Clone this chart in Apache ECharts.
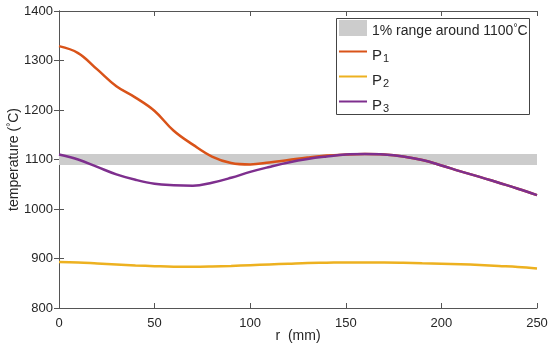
<!DOCTYPE html>
<html>
<head>
<meta charset="utf-8">
<script src="https://cdn.jsdelivr.net/npm/echarts@6/dist/echarts.min.js"></script>
<style>html,body{margin:0;padding:0;background:#fff}#c{width:550px;height:355px}</style>
</head>
<body>
<div id="c"></div>
<script>
var rValues = [0,10,20,30,40,50,60,70,80,90,100,110,120,130,140,150,160,170,180,190,200,210,220,230,240,250];
var p1 = [1329,1315,1282,1248,1225,1198,1158,1130,1106,1093,1090,1094,1099,1104,1108,1110,1111,1110,1106,1099,1088,1076,1065,1053,1041,1028];
var p2 = [893,892,890,888,886,884.5,883.5,883.5,884,885,886.5,888,889.5,891,891.5,892,892,892,891.5,890.5,889.5,888.5,887,885,883,880];
var p3 = [1110,1100,1085,1070,1059,1051,1048,1047,1053,1063,1075,1085,1094,1101,1106,1110,1111,1110,1106,1099,1088,1076,1065,1053,1041,1028];
var bandLow = 1089, bandHigh = 1111;
var seriesNames = ['1% range around 1100°C','P1','P2','P3'];
var colors = ['#cccccc','#D95319','#EDB120','#7E2F8E'];

function pairs(ys){ return rValues.map(function(r,i){ return [r, ys[i]]; }); }

var FONT = 'Liberation Sans';
var axisColor = '#555555';
var textColor = '#262626';
var blankSymbol = 'image://data:image/gif;base64,R0lGODlhAQABAIAAAAAAAP///yH5BAEAAAAALAAAAAABAAEAAAIBRAA7';

var chart = echarts.init(document.getElementById('c'), null, {renderer:'canvas'});
var tickCommon = {show:true, inside:true, length:5, lineStyle:{color:axisColor, width:1}};
function plain(v){ return String(v); }
chart.setOption({
  animation:false,
  backgroundColor:'#ffffff',
  grid:{left:59, right:13, top:11, bottom:47, containLabel:false, outerBoundsMode:'none'},
  graphic:[{
    type:'rect', left:336, top:18, z:3, silent:true,
    shape:{width:193, height:96},
    style:{fill:'#ffffff', stroke:'#444444', lineWidth:1}
  }],
  xAxis:[{
    type:'value', min:0, max:250, interval:50, position:'bottom',
    name:'r  (mm)', nameLocation:'middle', nameGap:21, nameMoveOverlap:false,
    nameTextStyle:{fontFamily:FONT, fontSize:14, color:textColor},
    axisLine:{lineStyle:{color:axisColor, width:1}},
    axisTick:tickCommon,
    axisLabel:{fontFamily:FONT, fontSize:13, color:textColor, margin:9, formatter:plain},
    splitLine:{show:false}
  },{
    type:'value', min:0, max:250, interval:50, position:'top',
    axisLine:{show:true, lineStyle:{color:axisColor, width:1}},
    axisTick:tickCommon, axisLabel:{show:false}, splitLine:{show:false}
  }],
  yAxis:[{
    type:'value', min:800, max:1400, interval:100, position:'left',
    name:'temperature ({sup|°}C)', nameLocation:'middle', nameGap:37, nameMoveOverlap:false,
    nameTextStyle:{fontFamily:FONT, fontSize:14, color:textColor,
      rich:{sup:{fontFamily:FONT, fontSize:10, color:textColor, verticalAlign:'top', lineHeight:16}}},
    axisLine:{show:true, lineStyle:{color:axisColor, width:1}},
    axisTick:tickCommon,
    axisLabel:{fontFamily:FONT, fontSize:13, color:textColor, margin:6, formatter:plain},
    splitLine:{show:false}
  },{
    type:'value', min:800, max:1400, interval:100, position:'right',
    axisLine:{show:true, lineStyle:{color:axisColor, width:1}},
    axisTick:tickCommon, axisLabel:{show:false}, splitLine:{show:false}
  }],
  legend:{
    orient:'vertical', left:336, top:18, z:5,
    borderWidth:0,
    padding:[2,3,0,2], itemGap:2, itemWidth:28, itemHeight:16,
    data:[
      {name:seriesNames[0], icon:'rect'},
      {name:seriesNames[1]}, {name:seriesNames[2]}, {name:seriesNames[3]}
    ],
    formatter:function(n){
      if (n === seriesNames[0]) return '{t|1% range around 1100}{sup|°}{t|C}';
      return '{p|P}{sub|' + n.slice(1) + '}';
    },
    textStyle:{fontFamily:FONT, fontSize:14, color:textColor,
      rich:{
        t:{fontFamily:FONT, fontSize:14, color:textColor, lineHeight:16, verticalAlign:'top', padding:[4,0,4,0]},
        sup:{fontFamily:FONT, fontSize:10, color:textColor, lineHeight:10, verticalAlign:'top', padding:[3,0,0,0]},
        p:{fontFamily:FONT, fontSize:15, color:textColor, lineHeight:15, verticalAlign:'top', padding:[4,0,4,0]},
        sub:{fontFamily:FONT, fontSize:11, color:textColor, lineHeight:11, verticalAlign:'top', padding:[9,0,0,1]}
      }}
  },
  series:[
    {name:seriesNames[0], type:'line', data:[[0,(bandLow+bandHigh)/2],[250,(bandLow+bandHigh)/2]],
     symbol:'none', lineStyle:{width:0, opacity:0}, itemStyle:{color:colors[0]}, silent:true, z:1,
     markArea:{silent:true, itemStyle:{color:colors[0]}, data:[[{yAxis:bandLow},{yAxis:bandHigh}]]}},
    {name:seriesNames[1], type:'line', data:pairs(p1), smooth:0.4, symbol:blankSymbol, showSymbol:false, z:2,
     lineStyle:{color:colors[1], width:2.5}, itemStyle:{color:colors[1]}},
    {name:seriesNames[2], type:'line', data:pairs(p2), smooth:0.4, symbol:blankSymbol, showSymbol:false, z:3,
     lineStyle:{color:colors[2], width:2.5}, itemStyle:{color:colors[2]}},
    {name:seriesNames[3], type:'line', data:pairs(p3), smooth:0.4, symbol:blankSymbol, showSymbol:false, z:4,
     lineStyle:{color:colors[3], width:2.5}, itemStyle:{color:colors[3]}}
  ]
});
</script>
</body>
</html>
